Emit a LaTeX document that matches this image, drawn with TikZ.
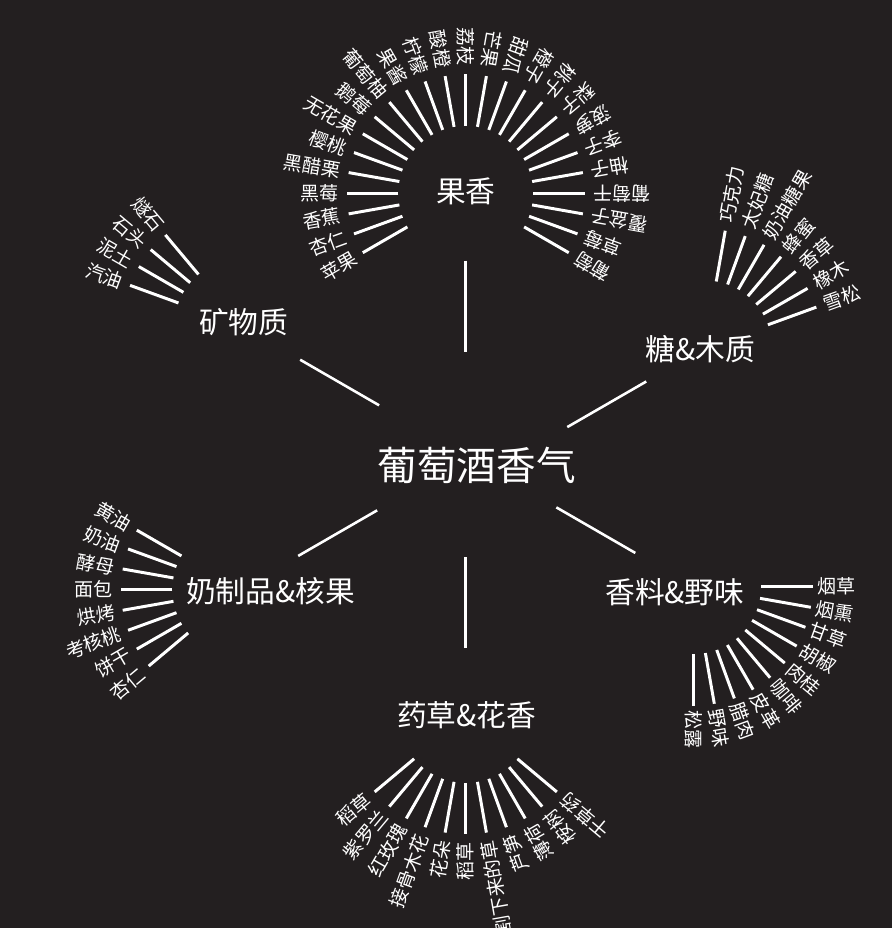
\documentclass[tikz,border=0pt]{standalone}
\usepackage{fontspec}
\setmainfont{Noto Sans CJK SC}
\usetikzlibrary{positioning, calc}
\definecolor{bgdark}{RGB}{35,31,32}

\begin{document}
\begin{tikzpicture}[
  x=0.5pt, y=0.5pt,
  every node/.style={text=white},
  hubtext/.style={font=\fontsize{20}{20}\selectfont, inner sep=0pt},
  grouptext/.style={font=\fontsize{15}{15}\selectfont, inner sep=0pt},
  leaftext/.style={font=\fontsize{9.6}{9.6}\selectfont, inner sep=0pt},
  ray/.style={draw=white, line width=1.5pt},
  link/.style={draw=white, line width=1.3pt},
]

\def\rIn{68}  \def\rOut{120}  \def\rTxt{128}  \def\rLink{160}

%% ====================================================================
%%  BACKGROUND
%% ====================================================================
\fill[bgdark] (0,0) rectangle (900,-936);

%% ====================================================================
%%  HUB AND GROUPS
%% ====================================================================
\node[hubtext] (hub) at (481,-470) {葡萄酒香气};

\coordinate (fruit-c)   at (470,-195);
\coordinate (mineral-c) at (244,-329);
\coordinate (sugar-c)   at (711,-351);
\coordinate (dairy-c)   at (242,-595);
\coordinate (spice-c)   at (700,-592);
\coordinate (herb-c)    at (470,-722);

\node[grouptext] (fruit)   at (470,-193) {果香};
\node[grouptext] (mineral) at (246,-325) {矿物质};
\node[grouptext] (sugar)   at (707,-352) {糖\&木质};
\node[grouptext] (dairy)   at (273,-597) {奶制品\&核果};
\node[grouptext] (spice)   at (681,-598) {香料\&野味};
\node[grouptext] (herb)    at (471,-722) {药草\&花香};

%% -- links to the hub --
\draw[link] ([shift={(-90:\rIn)}]fruit-c)  -- ([shift={(-90:\rLink)}]fruit-c);
\draw[link] ([shift={(-30:\rIn)}]mineral-c) -- ([shift={(-30:\rLink)}]mineral-c);
\draw[link] ([shift={(210:\rIn)}]sugar-c)  -- ([shift={(210:\rLink)}]sugar-c);
\draw[link] ([shift={(30:\rIn)}]dairy-c)   -- ([shift={(30:\rLink)}]dairy-c);
\draw[link] ([shift={(150:\rIn)}]spice-c)  -- ([shift={(150:\rLink)}]spice-c);
\draw[link] ([shift={(90:\rIn)}]herb-c)    -- ([shift={(90:\rLink)}]herb-c);

%% ====================================================================
%%  FRUIT FAN
%% ====================================================================
\foreach \a/\t [count=\i] in {210/苹果, 200/杏仁, 190/香蕉, 180/黑莓, 170/黑醋栗,
    160/樱桃, 150/无花果, 140/鹅莓, 130/葡萄柚, 120/果酱, 110/柠檬, 100/酸橙,
    90/荔枝, 80/芒果, 70/甜瓜, 60/橙子, 50/桃子, 40/梨子, 30/菠萝, 20/李子,
    10/柚子, 0/葡萄干, -10/覆盆子, -20/草莓, -30/葡萄} {
  \draw[ray] ([shift={(\a:\rIn)}]fruit-c) -- ([shift={(\a:\rOut)}]fruit-c);
  \node[leaftext, anchor=east, rotate=\a+180] (fruit-\i)
    at ([shift={(\a:\rTxt)}]fruit-c) {\t};
}

%% ====================================================================
%%  MINERAL FAN
%% ====================================================================
\foreach \a/\t [count=\i] in {130/燧石, 140/石头, 150/泥土, 160/汽油} {
  \draw[ray] ([shift={(\a:\rIn)}]mineral-c) -- ([shift={(\a:\rOut)}]mineral-c);
  \node[leaftext, anchor=east, rotate=\a+180] (mineral-\i)
    at ([shift={(\a:\rTxt)}]mineral-c) {\t};
}

%% ====================================================================
%%  SUGAR & WOOD FAN
%% ====================================================================
\foreach \a/\t [count=\i] in {80/巧克力, 70/太妃糖, 60/奶油糖果, 50/蜂蜜,
    40/香草, 30/橡木, 20/雪松} {
  \draw[ray] ([shift={(\a:\rIn)}]sugar-c) -- ([shift={(\a:\rOut)}]sugar-c);
  \node[leaftext, anchor=west, rotate=\a] (sugar-\i)
    at ([shift={(\a:\rTxt)}]sugar-c) {\t};
}

%% ====================================================================
%%  DAIRY & NUT FAN
%% ====================================================================
\foreach \a/\t [count=\i] in {150/黄油, 160/奶油, 170/酵母, 180/面包,
    190/烘烤, 200/考核桃, 210/饼干, 220/杏仁} {
  \draw[ray] ([shift={(\a:\rIn)}]dairy-c) -- ([shift={(\a:\rOut)}]dairy-c);
  \node[leaftext, anchor=east, rotate=\a+180] (dairy-\i)
    at ([shift={(\a:\rTxt)}]dairy-c) {\t};
}

%% ====================================================================
%%  SPICE & GAME FAN
%% ====================================================================
\foreach \a/\t [count=\i] in {0/烟草, -10/烟熏, -20/甘草, -30/胡椒, -40/肉桂,
    -50/咖啡, -60/皮革, -70/腊肉, -80/野味, -90/松露} {
  \draw[ray] ([shift={(\a:\rIn)}]spice-c) -- ([shift={(\a:\rOut)}]spice-c);
  \node[leaftext, anchor=west, rotate=\a] (spice-\i)
    at ([shift={(\a:\rTxt-3)}]spice-c) {\t};
}

%% ====================================================================
%%  HERB & FLOWER FAN
%% ====================================================================
\foreach \a/\t [count=\i] in {220/稻草, 230/紫罗兰, 240/红玫瑰, 250/接骨木花,
    260/花朵, 270/稻草, 280/割下来的草, 290/芦笋, 300/薄荷, 310/桉树,
    320/干草药} {
  \draw[ray] ([shift={(\a:\rIn)}]herb-c) -- ([shift={(\a:\rOut)}]herb-c);
  \node[leaftext, anchor=east, rotate=\a+180] (herb-\i)
    at ([shift={(\a:\rTxt)}]herb-c) {\t};
}

\end{tikzpicture}
\end{document}
